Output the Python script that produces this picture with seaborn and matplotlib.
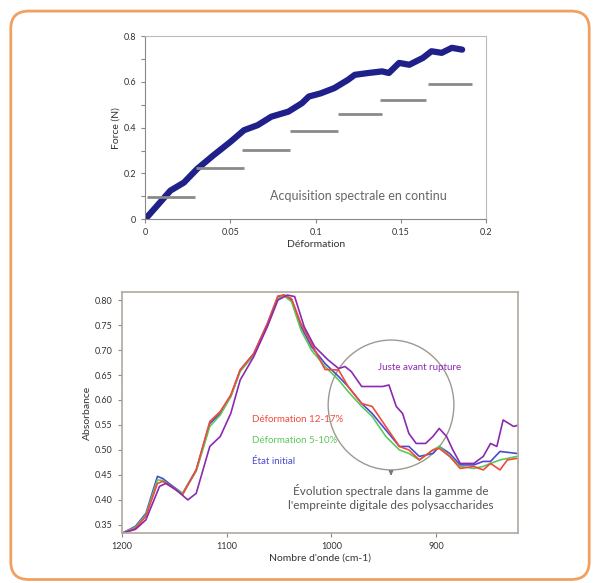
import numpy as np
import pandas as pd
import matplotlib
matplotlib.use("Agg")
import matplotlib.pyplot as plt
import seaborn as sns
from matplotlib.patches import FancyBboxPatch, Ellipse

# ---------------- data: force curve ----------------
strain = [0.0, 0.007, 0.0148, 0.0227, 0.0305, 0.040, 0.050, 0.058, 0.066, 0.074,
          0.084, 0.092, 0.096, 0.103, 0.111, 0.119, 0.123, 0.131, 0.139, 0.143,
          0.149, 0.155, 0.163, 0.168, 0.174, 0.180, 0.186]
force = [0.0, 0.059, 0.125, 0.160, 0.220, 0.279, 0.338, 0.389, 0.411, 0.448,
         0.470, 0.507, 0.536, 0.550, 0.573, 0.609, 0.631, 0.639, 0.646, 0.639,
         0.683, 0.675, 0.705, 0.734, 0.727, 0.749, 0.741]

# acquisition steps (start, end, level)
step_start = [0.001, 0.030, 0.057, 0.085, 0.113, 0.138, 0.166]
step_end = [0.029, 0.058, 0.085, 0.113, 0.139, 0.165, 0.192]
step_level = [0.097, 0.224, 0.303, 0.387, 0.460, 0.519, 0.589]

# ---------------- data: spectra ----------------
wn_blue = [1200, 1187, 1177, 1166, 1161, 1155, 1142, 1129, 1116, 1106, 1096, 1087, 1074, 1061,
           1051, 1045, 1038, 1029, 1019, 1006, 993, 984, 971, 961, 948, 935, 926, 916, 903,
           897, 887, 877, 864, 855, 848, 839, 823]
ab_blue = [0.333, 0.347, 0.373, 0.447, 0.443, 0.433, 0.413, 0.460, 0.553, 0.573, 0.607, 0.660,
           0.693, 0.753, 0.807, 0.810, 0.800, 0.747, 0.707, 0.673, 0.647, 0.627, 0.593, 0.573,
           0.540, 0.507, 0.507, 0.487, 0.493, 0.507, 0.493, 0.470, 0.470, 0.477, 0.477, 0.497, 0.493]

wn_green = [1200, 1187, 1177, 1166, 1161, 1155, 1142, 1129, 1116, 1106, 1096, 1087, 1074, 1061,
            1051, 1045, 1038, 1029, 1019, 1006, 993, 984, 971, 961, 948, 935, 926, 916, 903,
            897, 887, 877, 864, 855, 848, 839, 823]
ab_green = [0.333, 0.345, 0.370, 0.440, 0.439, 0.430, 0.413, 0.457, 0.547, 0.570, 0.607, 0.657,
            0.690, 0.750, 0.803, 0.808, 0.797, 0.740, 0.700, 0.667, 0.640, 0.617, 0.587, 0.567,
            0.527, 0.500, 0.493, 0.480, 0.500, 0.507, 0.487, 0.467, 0.463, 0.467, 0.473, 0.480, 0.487]

wn_red = [1200, 1187, 1177, 1166, 1161, 1155, 1142, 1129, 1116, 1106, 1096, 1087, 1074, 1061,
          1051, 1045, 1038, 1029, 1019, 1006, 993, 984, 971, 961, 948, 935, 926, 916, 903,
          897, 887, 877, 864, 855, 848, 839, 832, 823]
ab_red = [0.333, 0.343, 0.367, 0.433, 0.437, 0.430, 0.410, 0.460, 0.557, 0.577, 0.610, 0.660,
          0.693, 0.753, 0.808, 0.810, 0.803, 0.753, 0.713, 0.661, 0.660, 0.627, 0.593, 0.587,
          0.547, 0.507, 0.500, 0.480, 0.500, 0.503, 0.487, 0.463, 0.467, 0.460, 0.473, 0.460, 0.480, 0.483]

wn_purple = [1200, 1187, 1177, 1164, 1158, 1148, 1137, 1129, 1116, 1106, 1096, 1087, 1074, 1061,
             1051, 1042, 1035, 1026, 1016, 1003, 993, 987, 981, 971, 961, 951, 945, 938, 932,
             926, 919, 910, 903, 897, 890, 884, 877, 864, 855, 848, 842, 836, 826, 821]
ab_purple = [0.333, 0.341, 0.360, 0.427, 0.433, 0.420, 0.400, 0.413, 0.507, 0.527, 0.573, 0.640,
             0.687, 0.747, 0.800, 0.810, 0.807, 0.747, 0.707, 0.680, 0.663, 0.667, 0.657, 0.627,
             0.627, 0.627, 0.630, 0.587, 0.573, 0.533, 0.513, 0.513, 0.527, 0.543, 0.527, 0.500,
             0.473, 0.473, 0.487, 0.513, 0.507, 0.560, 0.547, 0.550]

series_names = ["État initial", "Déformation 5-10%", "Déformation 12-17%", "Juste avant rupture"]
series_colors = ["#4a4ad0", "#5cc85c", "#f04a3a", "#8a2ab0"]

sns.set_style("white")
plt.rcParams['font.family'] = ['Lato', 'DejaVu Sans']

fig = plt.figure(figsize=(6.0, 5.83), dpi=100)

# orange rounded frame
frame = FancyBboxPatch((0.018, 0.006), 0.964, 0.975, boxstyle="round,pad=0,rounding_size=0.03",
                       transform=fig.transFigure, fill=False, edgecolor="#f0a060", linewidth=2.0)
fig.patches.append(frame)

# ---------------- top axes ----------------
ax1 = fig.add_axes([0.242, 0.624, 0.568, 0.314])
df_force = pd.DataFrame({"strain": strain, "force": force})
sns.lineplot(data=df_force, x="strain", y="force", ax=ax1, color="#20208a", linewidth=4.5)
for s0, s1, lv in zip(step_start, step_end, step_level):
    ax1.hlines(lv, s0, s1, color="#8a8a8a", linewidth=2)
ax1.set_xlim(0, 0.2)
ax1.set_ylim(0, 0.8)
ax1.set_xticks([0, 0.05, 0.1, 0.15, 0.2])
ax1.set_xticklabels(["0", "0.05", "0.1", "0.15", "0.2"])
ax1.set_yticks([0, 0.2, 0.4, 0.6, 0.8])
ax1.set_yticklabels(["0", "0.2", "0.4", "0.6", "0.8"])
ax1.set_yticks([0.1, 0.3, 0.5, 0.7], minor=True)
ax1.tick_params(axis="both", which="both", direction="out", length=3, width=0.8,
                color="#888888", labelsize=6.5, labelcolor="#333333", bottom=True, left=True)
ax1.set_xlabel("Déformation", fontsize=7.5, color="#333333", labelpad=2)
ax1.set_ylabel("Force (N)", fontsize=7.5, color="#333333", labelpad=2)
for sp in ax1.spines.values():
    sp.set_color("#bbbbbb")
    sp.set_linewidth(0.8)
ax1.spines["left"].set_color("#888888")
ax1.spines["bottom"].set_color("#888888")
ax1.text(0.125, 0.10, "Acquisition spectrale en continu", fontsize=9, color="#666666",
         ha="center", va="center")

# ---------------- bottom axes ----------------
ax2 = fig.add_axes([0.203, 0.086, 0.66, 0.413])
wns = [wn_blue, wn_green, wn_red, wn_purple]
abs_ = [ab_blue, ab_green, ab_red, ab_purple]
for name, col, w, a in zip(series_names, series_colors, wns, abs_):
    d = pd.DataFrame({"wn": w, "ab": a})
    sns.lineplot(data=d, x="wn", y="ab", ax=ax2, color=col, linewidth=1.2, sort=False)
ax2.set_xlim(1200, 822)
ax2.set_ylim(0.334, 0.816)
ax2.set_xticks([1200, 1100, 1000, 900])
ax2.set_yticks([0.35, 0.40, 0.45, 0.50, 0.55, 0.60, 0.65, 0.70, 0.75, 0.80])
ax2.yaxis.set_major_formatter(matplotlib.ticker.FormatStrFormatter("%.2f"))
ax2.tick_params(axis="both", direction="out", length=3, width=0.8, color="#888888",
                labelsize=6.5, labelcolor="#333333", bottom=True, left=True)
ax2.set_xlabel("Nombre d'onde (cm-1)", fontsize=7.5, color="#333333", labelpad=2)
ax2.set_ylabel("Absorbance", fontsize=7.5, color="#333333", labelpad=2)
for sp in ax2.spines.values():
    sp.set_color("#b0a8a0")
    sp.set_linewidth(1.2)

ell = Ellipse((943, 0.59), 120, 0.26, fill=False, edgecolor="#a09890", linewidth=1.0)
ax2.add_patch(ell)
ax2.annotate("", xy=(943, 0.443), xytext=(943, 0.46),
             arrowprops=dict(arrowstyle="-|>", color="#777777", lw=1, mutation_scale=6))
ax2.text(943, 0.405, "Évolution spectrale dans la gamme de\nl'empreinte digitale des polysaccharides",
         fontsize=8.5, color="#555555", ha="center", va="center", linespacing=1.3)
ax2.text(955, 0.665, "Juste avant rupture", fontsize=7, color=series_colors[3], ha="left", va="center")
ax2.text(1076, 0.560, "Déformation 12-17%", fontsize=7, color=series_colors[2], ha="left", va="center")
ax2.text(1076, 0.518, "Déformation 5-10%", fontsize=7, color=series_colors[1], ha="left", va="center")
ax2.text(1076, 0.476, "État initial", fontsize=7, color=series_colors[0], ha="left", va="center")

fig.savefig("out.png", dpi=100)
